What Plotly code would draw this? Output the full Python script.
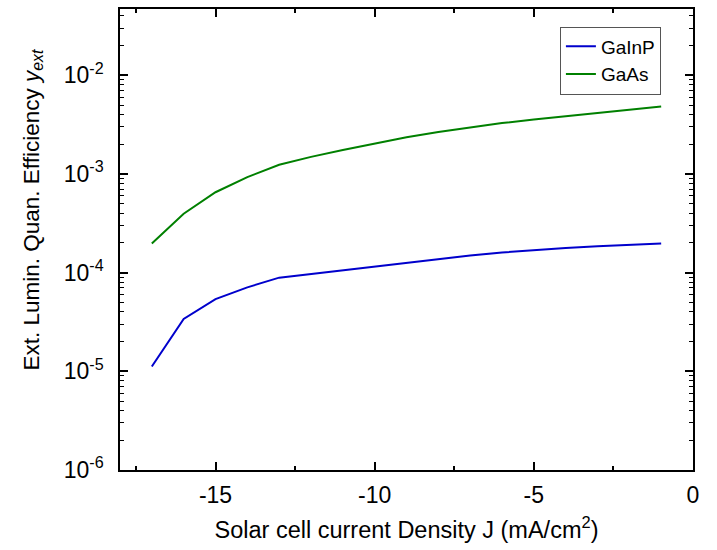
import plotly.graph_objects as go

J = [-17, -16, -15, -14, -13, -12, -11, -10, -9, -8, -7, -6, -5, -4, -3, -2, -1]
gainp = [1.12e-5, 3.4e-5, 5.4e-5, 7.1e-5, 8.9e-5, 9.7e-5, 1.06e-4, 1.15e-4, 1.26e-4,
         1.37e-4, 1.49e-4, 1.60e-4, 1.70e-4, 1.78e-4, 1.85e-4, 1.91e-4, 1.97e-4]
gaas = [1.97e-4, 3.96e-4, 6.53e-4, 9.3e-4, 1.24e-3, 1.49e-3, 1.75e-3, 2.04e-3, 2.36e-3,
        2.66e-3, 2.98e-3, 3.28e-3, 3.57e-3, 3.86e-3, 4.16e-3, 4.48e-3, 4.82e-3]

y_tickvals = [1e-6, 1e-5, 1e-4, 1e-3, 1e-2]
y_ticktext = ["10<sup>-6</sup>", "10<sup>-5</sup>", "10<sup>-4</sup>", "10<sup>-3</sup>", "10<sup>-2</sup>"]
x_tickvals = [-15, -10, -5, 0]
x_ticktext = ["-15", "-10", "-5", "0"]

FONT = "Liberation Sans, Arial, sans-serif"

fig = go.Figure()
fig.add_trace(go.Scatter(x=J, y=gainp, mode="lines", name="GaInP",
                         line=dict(color="#0000CC", width=2)))
fig.add_trace(go.Scatter(x=J, y=gaas, mode="lines", name="GaAs",
                         line=dict(color="#008000", width=2)))

fig.update_layout(
    width=717, height=550,
    margin=dict(l=120, r=24, t=7, b=80),
    paper_bgcolor="white", plot_bgcolor="white",
    font=dict(family=FONT, color="black", size=20),
    legend=dict(x=0.944, y=0.962, xanchor="right", yanchor="top",
                bordercolor="#555555", borderwidth=1, bgcolor="white",
                font=dict(size=19, family=FONT), tracegroupgap=0),
    showlegend=True,
    annotations=[dict(
        text="Ext. Lumin. Quan. Efficiency <i>y<sub>ext</sub></i>",
        xref="paper", yref="paper", x=-0.1518, y=0.563,
        xanchor="center", yanchor="middle", textangle=-90, showarrow=False,
        font=dict(size=22.5, family=FONT, color="black"),
    )],
)
fig.update_xaxes(
    range=[-18, 0], tickmode="array", tickvals=x_tickvals, ticktext=x_ticktext,
    ticks="inside", ticklen=8, tickwidth=1.5, tickcolor="black",
    showline=True, linecolor="black", linewidth=1.5, mirror="allticks",
    showgrid=False, zeroline=False,
    minor=dict(ticks="inside", ticklen=4, tickwidth=1.5, tickcolor="black", dtick=2.5, tick0=0, showgrid=False),
    title=dict(text="Solar cell current Density J (mA/cm<sup>2</sup>)", font=dict(size=23.5), standoff=14),
    tickfont=dict(size=23), ticklabelstandoff=4,
)
fig.update_yaxes(
    type="log", range=[-6, -1.328], tickmode="array", tickvals=y_tickvals, ticktext=y_ticktext,
    ticks="inside", ticklen=8, tickwidth=1.5, tickcolor="black",
    showline=True, linecolor="black", linewidth=1.5, mirror="allticks",
    showgrid=False, zeroline=False,
    minor=dict(ticks="inside", ticklen=4, tickwidth=1.2, tickcolor="black", dtick="D1", showgrid=False),
    tickfont=dict(size=23), ticklabelstandoff=10,
)

fig.write_html("out.html")
